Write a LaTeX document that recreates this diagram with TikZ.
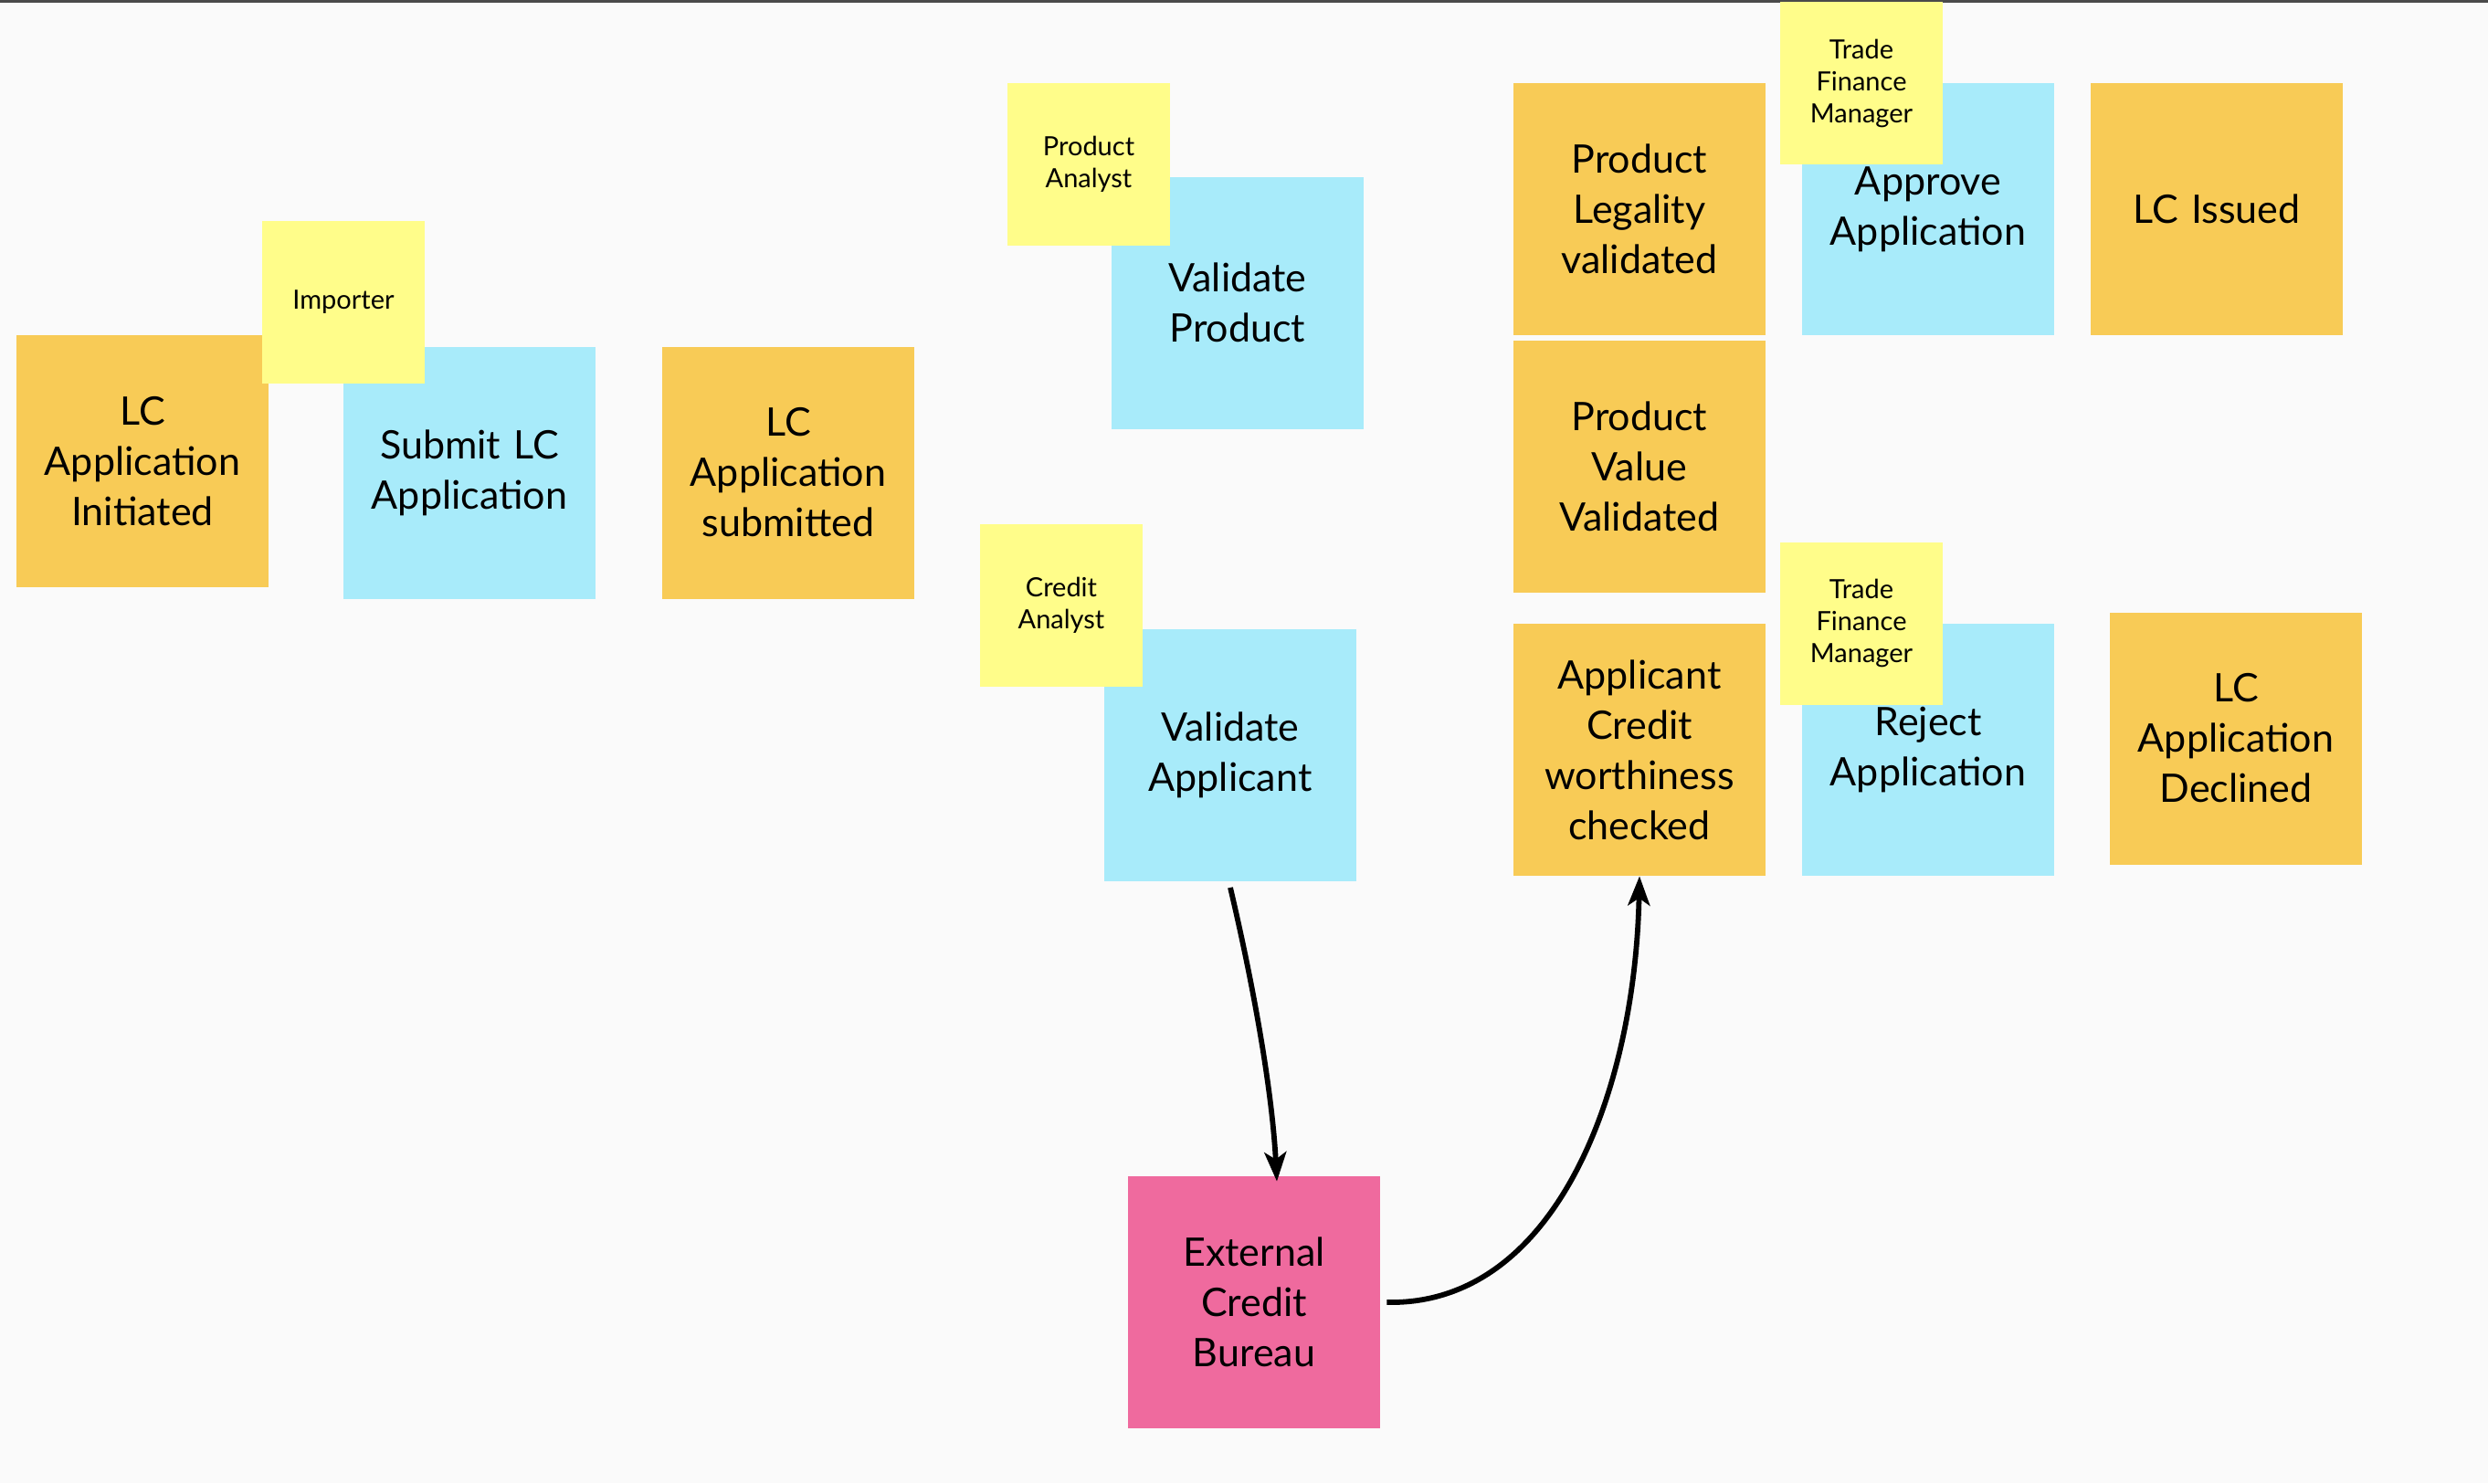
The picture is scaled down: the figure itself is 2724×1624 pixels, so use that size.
\documentclass[tikz,border=0pt]{standalone}
\usepackage{fontspec}
\setmainfont{Lato}
\usetikzlibrary{arrows.meta,calc}
\definecolor{bg}{HTML}{FAFAFA}
\definecolor{evt}{HTML}{F8CB56}
\definecolor{cmdc}{HTML}{A8EBFA}
\definecolor{rolec}{HTML}{FFFD8A}
\definecolor{extc}{HTML}{EF6A9E}
\definecolor{topline}{HTML}{4A4A4A}
\begin{document}
\begin{tikzpicture}[x=0.5pt,y=-0.5pt,
  sticky/.style={rectangle, inner sep=0pt, minimum width=138pt, minimum height=138pt,
    text width=134pt, align=center, font=\fontsize{21.5}{27.5}\selectfont},
  event/.style={sticky, fill=evt},
  cmd/.style={sticky, fill=cmdc},
  extsys/.style={sticky, fill=extc},
  role/.style={rectangle, inner sep=0pt, minimum width=89pt, minimum height=89pt,
    text width=85pt, align=center, fill=rolec, font=\fontsize{14.5}{17.5}\selectfont},
  flow/.style={line width=2.9pt, -{Stealth[length=16pt,width=12pt,inset=4pt]}}]
\fill[bg] (0,0) rectangle (2724,1624);
\useasboundingbox (0,0) rectangle (2724,1624);
\draw[topline, line width=1.5pt] (0,1.5) -- (2724,1.5);
% events and commands
\node[event] (lci) at (156,505) {LC\\Application\\Initiated};
\node[cmd] (sub) at (514,517.5) {Submit LC\\Application};
\node[event] (lcs) at (863,517.5) {LC\\Application\\submitted};
\node[cmd] (vp) at (1355,331.5) {Validate\\Product};
\node[cmd] (va) at (1347,826.5) {Validate\\Applicant};
\node[extsys] (ecb) at (1373,1426) {External\\Credit\\Bureau};
\node[event] (plv) at (1795,229) {Product\\Legality\\validated};
\node[event] (pvv) at (1795,511) {Product\\Value\\Validated};
\node[event] (acc) at (1795,821) {Applicant\\Credit\\worthiness\\checked};
\node[cmd] (appr) at (2111,229) {Approve\\Application};
\node[cmd] (rej) at (2111,821) {Reject\\Application};
\node[event] (iss) at (2427,229) {LC Issued};
\node[event] (dec) at (2448,808.5) {LC\\Application\\Declined};
% roles
\node[role] (imp) at (376,331) {Importer};
\node[role] (pa) at (1192,179.5) {Product\\Analyst};
\node[role] (ca) at (1162,662.5) {Credit\\Analyst};
\node[role] (tfm1) at (2038,91) {Trade\\Finance\\Manager};
\node[role] (tfm2) at (2038,682.5) {Trade\\Finance\\Manager};
% connectors
\draw[flow] ($(va.south)+(0,7)$) .. controls ($(va.south)+(28,126)$) and ($(ecb.north)+(20,-88)$) .. ($(ecb.north)+(25,6)$);
\draw[flow] ($(ecb.east)+(7,0)$) .. controls ($(ecb.east)+(189,4)$) and ($(acc.south)+(-5,241)$) .. (acc.south);
\end{tikzpicture}
\end{document}
